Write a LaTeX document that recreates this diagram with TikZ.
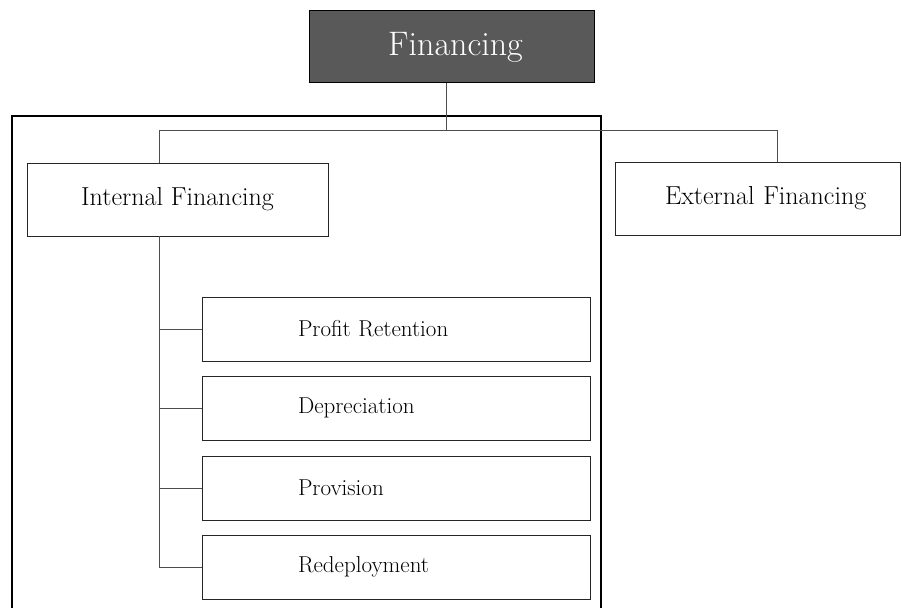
\documentclass[tikz,border=0pt]{standalone}
\usetikzlibrary{positioning}
\definecolor{headgray}{HTML}{595959}
\definecolor{linegray}{HTML}{4D4D4D}

\begin{document}
\begin{tikzpicture}[x=1pt, y=-1pt,
    headbox/.style={draw=black, line width=1pt, fill=headgray, text=white,
        minimum width=285pt, minimum height=72pt, inner sep=0pt,
        font=\fontsize{34}{40}\selectfont},
    mainbox/.style={draw=black!85, line width=0.9pt, fill=white,
        minimum height=73pt, inner sep=0pt, font=\fontsize{26}{31}\selectfont},
    itembox/.style={draw=black!85, line width=0.9pt, fill=white,
        minimum width=388pt, minimum height=64pt, inner sep=0pt,
        text width=388pt, align=left, execute at begin node={\hspace*{96pt}},
        font=\fontsize{23}{28}\selectfont},
    wire/.style={draw=linegray, line width=0.9pt}]
    \useasboundingbox (0,0) rectangle (901,607);

    % outer frame round the internal branch
    \draw[line width=1.4pt] (12,608) -- (12,116) -- (601,116) -- (601,608);

    % Draw the boxes
    \node[headbox] (fin) at (451.5,47) {\hspace*{8pt}Financing};
    \node[mainbox, minimum width=301pt] (int) at (177.5,199.5) {Internal Financing};
    \node[mainbox, text width=285pt, align=left,
        execute at begin node={\hspace*{50pt}}] (ext) at (757.5,198.5) {External Financing};

    \node[itembox] (profit) at (396,329) {Profit Retention};
    \node[itembox] (deprec) at (396,408) {Depreciation};
    \node[itembox] (provis) at (396,488) {Provision};
    \node[itembox] (redep) at (396,567) {Redeployment};

    % Draw the splitting wires
    \coordinate (split) at (446,130);
    \coordinate (intDrop) at (159,130);
    \coordinate (extDrop) at (777,130);

    \draw[wire] (split |- fin.south) -- (split);
    \draw[wire] (intDrop) -- (extDrop);
    \draw[wire] (intDrop) -- (intDrop |- int.north);
    \draw[wire] (extDrop) -- (extDrop |- ext.north);

    % Draw the wires down to the items
    \draw[wire] (intDrop |- int.south) -- (intDrop |- redep.west) -- (redep.west);
    \draw[wire] (intDrop |- profit.west) -- (profit.west);
    \draw[wire] (intDrop |- deprec.west) -- (deprec.west);
    \draw[wire] (intDrop |- provis.west) -- (provis.west);
\end{tikzpicture}
\end{document}
